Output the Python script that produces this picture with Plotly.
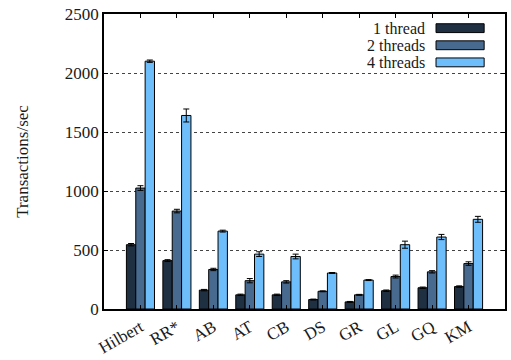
import plotly.graph_objects as go

# Benchmarks and throughput per thread count
benchmarks = ["Hilbert", "RR*", "AB", "AT", "CB", "DS", "GR", "GL", "GQ", "KM"]
series_names = ["1 thread", "2 threads", "4 threads"]
tx_1 = [545, 410, 160, 120, 120, 80, 60, 155, 180, 190]
tx_2 = [1025, 830, 335, 240, 230, 150, 120, 275, 315, 385]
tx_4 = [2100, 1640, 660, 465, 445, 305, 245, 545, 610, 760]
err_1 = [10, 8, 6, 6, 6, 4, 4, 6, 6, 6]
err_2 = [20, 15, 10, 18, 10, 4, 4, 12, 10, 15]
err_4 = [10, 55, 8, 20, 20, 4, 4, 30, 22, 25]
colors = ["#203043", "#486a8e", "#6fbefc"]

x_pos = list(range(len(benchmarks)))
serif = "Liberation Serif, DejaVu Serif, serif"
text_col = "#1a1a1a"

fig = go.Figure()
for name, vals, errs, col in zip(series_names, [tx_1, tx_2, tx_4], [err_1, err_2, err_4], colors):
    fig.add_trace(go.Bar(
        x=x_pos, y=vals, name=name,
        marker=dict(color=col, line=dict(color="#000000", width=1)),
        error_y=dict(type="data", array=errs, color="#000000", thickness=1, width=3),
        showlegend=False,
    ))

# Legend: right-aligned labels with swatches on the right
legend_rows = [0.952, 0.894, 0.836]
for name, col, yy in zip(series_names, colors, legend_rows):
    fig.add_annotation(x=0.806, y=yy, xref="paper", yref="paper", text=name,
                       showarrow=False, xanchor="right", yanchor="middle",
                       font=dict(family=serif, size=16, color=text_col))
    fig.add_shape(type="rect", xref="paper", yref="paper",
                  x0=0.828, x1=0.948, y0=yy - 0.015, y1=yy + 0.015,
                  fillcolor=col, line=dict(color="#000000", width=1))

fig.update_layout(
    width=511, height=360,
    margin=dict(l=104, r=6, t=14, b=51),
    paper_bgcolor="white", plot_bgcolor="white",
    barmode="group", bargap=0.23, bargroupgap=0.0,
    font=dict(family=serif, size=17, color=text_col),
    xaxis=dict(
        range=[-1, 10], tickvals=x_pos, ticktext=benchmarks, tickangle=-30,
        showline=True, linecolor="#000000", linewidth=1.5, mirror="ticks",
        ticks="inside", ticklen=4, tickcolor="#000000",
        showgrid=False, zeroline=False, automargin=False,
        tickfont=dict(family=serif, size=17, color=text_col),
    ),
    yaxis=dict(
        range=[0, 2500], tickvals=[0, 500, 1000, 1500, 2000, 2500],
        showline=True, linecolor="#000000", linewidth=1.5, mirror="ticks",
        ticks="inside", ticklen=4, tickcolor="#000000",
        showgrid=True, gridcolor="#444444", griddash="dot", gridwidth=1,
        zeroline=False, automargin=False,
        title=dict(text="Transactions/sec", standoff=32,
                   font=dict(family=serif, size=17, color=text_col)),
        tickfont=dict(family=serif, size=17, color=text_col),
    ),
)

fig.write_html("out.html")
